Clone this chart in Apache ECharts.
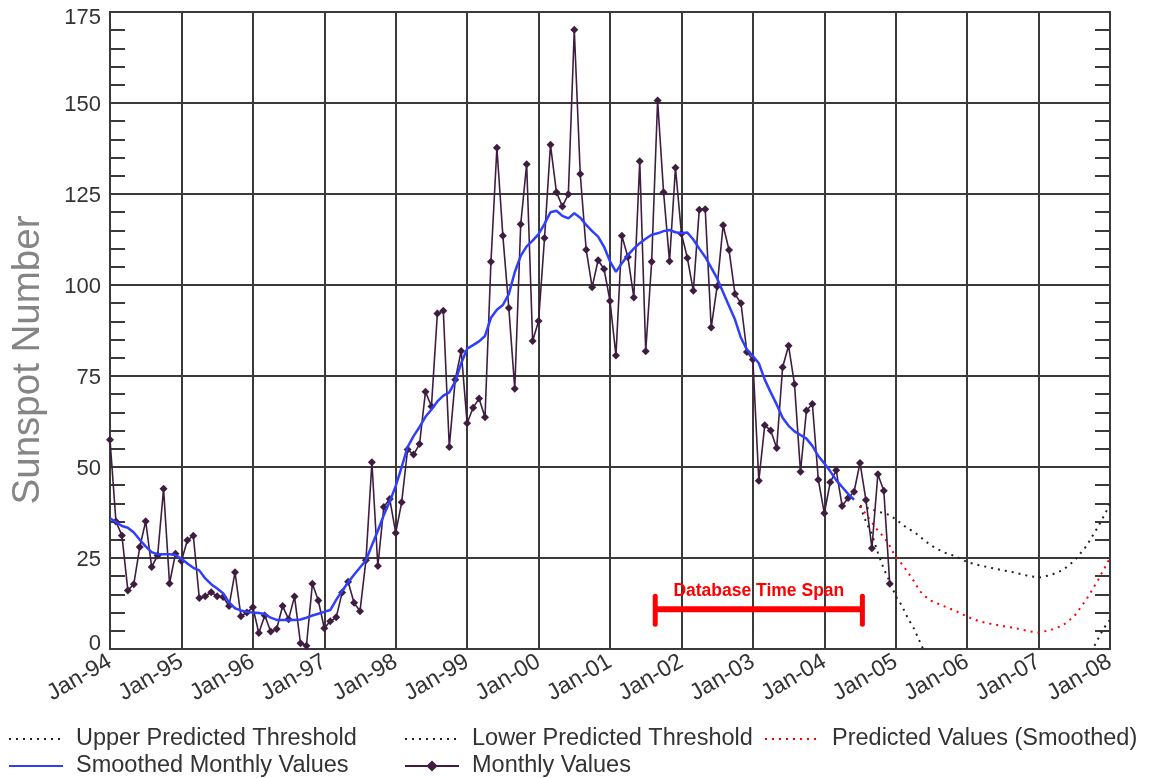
<!DOCTYPE html>
<html><head><meta charset="utf-8">
<script src="https://cdn.jsdelivr.net/npm/echarts@6/dist/echarts.min.js"></script>
<style>html,body{margin:0;padding:0;background:#fff}#c{width:1154px;height:778px}</style>
</head><body><div id="c"></div>
<script>
// x axis: month index counted from Jan 1994 (0) to Jan 2008 (168)
const tickLabels = ['Jan-94','Jan-95','Jan-96','Jan-97','Jan-98','Jan-99','Jan-00','Jan-01','Jan-02','Jan-03','Jan-04','Jan-05','Jan-06','Jan-07','Jan-08'];

// Monthly sunspot numbers, Jan 1994 .. Dec 2004
const monthlyValues = [
 57.5, 35.0, 31.2, 16.1, 17.8, 28.0, 35.1, 22.5, 25.7, 44.0, 18.0, 26.2,
 24.2, 29.9, 31.1, 14.0, 14.5, 15.6, 14.5, 14.3, 11.8, 21.1, 9.0, 10.0,
 11.5, 4.4, 9.2, 4.8, 5.5, 11.8, 8.2, 14.4, 1.6, 0.9, 17.9, 13.3,
 5.7, 7.6, 8.7, 15.5, 18.5, 12.7, 10.4, 24.4, 51.3, 22.8, 39.0, 41.2,
 31.9, 40.3, 54.8, 53.4, 56.3, 70.7, 66.6, 92.2, 92.9, 55.5, 74.0, 81.9,
 62.0, 66.3, 68.8, 63.7, 106.4, 137.7, 113.5, 93.7, 71.5, 116.7, 133.2, 84.6,
 90.1, 112.9, 138.5, 125.5, 121.6, 124.9, 170.1, 130.5, 109.7, 99.4, 106.8, 104.4,
 95.6, 80.6, 113.5, 107.7, 96.6, 134.0, 81.8, 106.4, 150.7, 125.5, 106.5, 132.2,
 114.1, 107.4, 98.4, 120.7, 120.8, 88.3, 99.6, 116.4, 109.6, 97.5, 95.0, 81.6,
 79.5, 46.2, 61.5, 60.0, 55.2, 77.4, 83.3, 72.7, 48.7, 65.5, 67.3, 46.5,
 37.3, 45.8, 49.1, 39.3, 41.5, 43.2, 51.1, 40.9, 27.7, 48.0, 43.5, 17.9
];

// Smoothed monthly values, Jan 1994 .. Jun 2004
const smoothedValues = [
 35.9, 34.9, 33.8, 33.3, 32.0, 30.0, 28.2, 26.6, 26.0, 26.0, 26.0, 25.8,
 24.8, 23.5, 22.3, 21.6, 19.4, 17.8, 16.6, 15.3, 12.8, 11.2, 10.6, 10.2,
 10.0, 9.9, 9.6, 8.6, 8.0, 8.0, 8.0, 8.0, 8.1, 8.6, 9.2, 9.7,
 10.2, 10.7, 13.5, 16.0, 18.3, 20.4, 22.4, 24.4, 28.5, 32.5, 36.8, 40.5,
 44.8, 50.0, 55.5, 58.5, 61.0, 63.8, 65.8, 68.0, 69.6, 70.5, 73.5, 78.5,
 82.5, 83.5, 84.5, 86.0, 91.0, 93.2, 94.5, 97.5, 103.5, 108.0, 110.6, 112.2,
 114.0, 116.8, 120.0, 120.4, 119.0, 118.3, 119.7, 118.5, 116.5, 114.8, 113.3, 110.5,
 106.5, 103.6, 106.0, 108.2, 110.0, 111.5, 112.7, 113.8, 114.2, 114.8, 115.1, 114.5,
 114.2, 114.4, 112.5, 110.0, 107.7, 104.8, 101.8, 98.0, 94.2, 90.5, 85.5, 82.2,
 80.5, 78.5, 74.0, 70.5, 67.2, 63.5, 61.3, 59.8, 58.8, 57.8, 55.8, 53.0,
 51.0, 48.8, 46.4, 44.5, 42.6, 41.0
];

// Predictions (month indices from Jan 1994)
const predMonths = [126,127,128,129,130,131,132,133,134,135,136,137,138,140,142,144,146,148,150,152,154,156,158,160,162,164,166,167,168];
const predictedSmoothed = [39.3,37.0,34.8,32.5,30.8,28.3,25.2,23.4,21.2,18.8,16.0,14.4,13.2,11.8,10.5,8.9,7.6,6.9,6.3,5.8,5.0,4.5,5.2,6.4,9.0,13.5,19.0,22.0,25.0];
const upperThreshold = [39.3,38.8,38.3,37.8,37.3,36.8,35.6,34.4,33.1,32.3,31.0,29.6,28.4,26.6,25.5,23.9,23.0,22.3,21.6,21.0,20.2,19.6,20.3,21.6,24.2,28.2,33.6,36.6,39.8];
const lowerThreshold = [39.3,35.0,31.5,26.5,22.0,18.5,14.5,12.0,8.6,5.8,2.2,-1.5,-4.0,-7.0,-9.5,-11.5,-13.0,-14.0,-14.8,-15.2,-15.5,-15.6,-15.0,-12.5,-8.5,-3.5,2.8,5.8,8.0];

// Database time span annotation: [start month, end month, level]
const spanLabel = 'Database Time Span';
const timeSpan = [91.6, 126.4, 10.9];

const FONT = 'Liberation Sans';
const GRID_COLOR = '#3a3a3a';

const toPairs = (vals, months) => vals.map((v, i) => [months ? months[i] : i, v]);

const chart = echarts.init(document.getElementById('c'));

const legendBase = (name, left, top, hideSymbol) => ({
  data: [name], left: left, top: top,
  orient: 'horizontal', padding: 0, itemWidth: 54, itemHeight: 14, selectedMode: false,
  itemStyle: hideSymbol ? { opacity: 0, color: 'rgba(0,0,0,0)', borderWidth: 0 } : {},
  textStyle: { fontFamily: FONT, fontSize: 23.5, color: '#333', padding: [0, 0, 0, 8] }
});

const dotted = (color) => ({ color: color, width: 2, type: [2, 5] });

const yLabelText = { fontFamily: FONT, fontSize: 22, color: '#333' };

chart.setOption({
  animation: false,
  backgroundColor: '#fff',
  grid: { left: 110, right: 44, top: 12, bottom: 129, show: true, borderColor: GRID_COLOR, borderWidth: 2, containLabel: false },
  legend: [
    legendBase('Upper Predicted Threshold', 8, 727, true),
    legendBase('Lower Predicted Threshold', 404, 727, true),
    legendBase('Predicted Values (Smoothed)', 764, 727, true),
    legendBase('Smoothed Monthly Values', 8, 754, true),
    legendBase('Monthly Values', 404, 754, false)
  ],
  xAxis: {
    type: 'value', min: 0, max: 168, interval: 12,
    axisLine: { show: true, lineStyle: { color: GRID_COLOR, width: 2 } },
    axisTick: { show: false },
    splitLine: { show: true, lineStyle: { color: GRID_COLOR, width: 2 } },
    axisLabel: {
      rotate: 30, margin: 11, fontFamily: FONT, fontSize: 23, color: '#333',
      formatter: (v) => tickLabels[Math.round(v / 12)]
    }
  },
  yAxis: [
    {
      type: 'value', position: 'left', min: 0, max: 175, interval: 25,
      axisLine: { show: true, lineStyle: { color: GRID_COLOR, width: 2 } },
      axisTick: { show: true, inside: true, length: 15, lineStyle: { color: GRID_COLOR, width: 2 } },
      minorTick: { show: true, splitNumber: 5, length: 15, lineStyle: { color: GRID_COLOR, width: 2 } },
      splitLine: { show: true, lineStyle: { color: GRID_COLOR, width: 2 } },
      axisLabel: Object.assign({
        margin: 9,
        formatter: (v) => v === 0 ? '{lo|0}' : (v === 175 ? '{hi|175}' : '{mid|' + v + '}'),
        rich: {
          lo: Object.assign({ padding: [0, 0, 11, 0] }, yLabelText),
          hi: Object.assign({ padding: [11, 0, 0, 0] }, yLabelText),
          mid: Object.assign({ padding: [4, 0, 0, 0] }, yLabelText)
        }
      }, yLabelText)
    },
    {
      type: 'value', position: 'right', min: 0, max: 175, interval: 25,
      axisLine: { show: true, lineStyle: { color: GRID_COLOR, width: 2 } },
      axisTick: { show: true, inside: true, length: 15, lineStyle: { color: GRID_COLOR, width: 2 } },
      minorTick: { show: true, splitNumber: 5, length: 15, lineStyle: { color: GRID_COLOR, width: 2 } },
      splitLine: { show: false },
      axisLabel: { show: false }
    }
  ],
  graphic: [{
    type: 'text', x: 28, y: 360, rotation: Math.PI / 2,
    style: { text: 'Sunspot Number', fill: '#858585', font: '38.5px "' + FONT + '"', align: 'center', verticalAlign: 'middle', textAlign: 'center', textVerticalAlign: 'middle' }
  }],
  series: [
    { name: 'Upper Predicted Threshold', type: 'line', data: toPairs(upperThreshold, predMonths), symbol: 'none', color: '#222', lineStyle: dotted('#222'), z: 2 },
    { name: 'Lower Predicted Threshold', type: 'line', data: toPairs(lowerThreshold, predMonths), symbol: 'none', color: '#222', lineStyle: dotted('#222'), z: 2 },
    { name: 'Predicted Values (Smoothed)', type: 'line', data: toPairs(predictedSmoothed, predMonths), symbol: 'none', color: '#ff0000', lineStyle: dotted('#ff0000'), z: 2 },
    { name: 'Monthly Values', type: 'line', data: toPairs(monthlyValues), symbol: 'diamond', symbolSize: 8, showSymbol: true,
      color: '#3f1d40', itemStyle: { color: '#3f1d40' }, lineStyle: { color: '#3f1d40', width: 1.6 }, z: 3 },
    { name: 'Smoothed Monthly Values', type: 'line', data: toPairs(smoothedValues), symbol: 'none', color: '#2f3fff', lineStyle: { color: '#2f3fff', width: 2.5 }, z: 4 },
    {
      name: spanLabel, type: 'custom', data: [timeSpan], encode: { x: [0, 1], y: 2 }, z: 5,
      renderItem: function (params, api) {
        const s = api.coord([api.value(0), api.value(2)]);
        const e = api.coord([api.value(1), api.value(2)]);
        const red = '#ff0000';
        return {
          type: 'group',
          children: [
            { type: 'line', shape: { x1: s[0], y1: s[1], x2: e[0], y2: e[1] }, style: { stroke: red, lineWidth: 6 } },
            { type: 'line', shape: { x1: s[0], y1: s[1] - 13, x2: s[0], y2: s[1] + 15 }, style: { stroke: red, lineWidth: 5, lineCap: 'round' } },
            { type: 'line', shape: { x1: e[0], y1: e[1] - 13, x2: e[0], y2: e[1] + 15 }, style: { stroke: red, lineWidth: 5, lineCap: 'round' } },
            { type: 'text', x: (s[0] + e[0]) / 2, y: s[1] - 18.5,
              style: { text: spanLabel, fill: red, font: 'bold 17.5px "' + FONT + '"', align: 'center', verticalAlign: 'middle', textAlign: 'center', textVerticalAlign: 'middle' } }
          ]
        };
      }
    }
  ]
});
</script>
</body></html>
